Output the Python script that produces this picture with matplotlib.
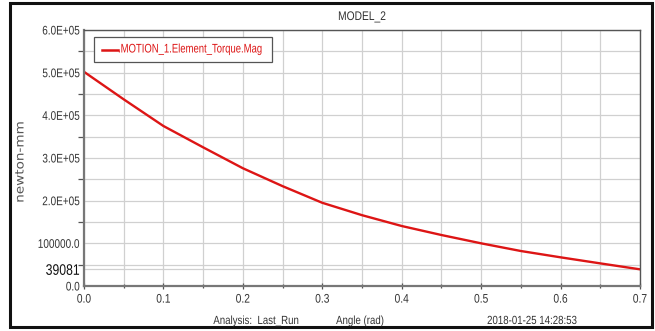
import matplotlib
matplotlib.use("Agg")
import matplotlib.pyplot as plt
from matplotlib.patches import Rectangle
from matplotlib.lines import Line2D
from matplotlib.ticker import MultipleLocator
from matplotlib.patheffects import AbstractPathEffect
from matplotlib.transforms import Affine2D

angle = [0.0, 0.05, 0.1, 0.15, 0.2, 0.25, 0.3, 0.35, 0.4, 0.45, 0.5, 0.55, 0.6, 0.65, 0.7]
torque = [502000, 437500, 375000, 325000, 276000, 234000, 195000, 166000, 140600,
          119500, 100000, 82000, 67200, 53000, 39081]
ytick_vals = [0, 39081, 100000, 200000, 300000, 400000, 500000, 600000]
ytick_labels = ["0.0", "39081", "100000.0", "2.0E+05", "3.0E+05", "4.0E+05", "5.0E+05", "6.0E+05"]
xtick_vals = [0.0, 0.1, 0.2, 0.3, 0.4, 0.5, 0.6, 0.7]
xtick_labels = ["0.0", "0.1", "0.2", "0.3", "0.4", "0.5", "0.6", "0.7"]
series_name = ".MOTION_1.Element_Torque.Mag"


class Squeeze(AbstractPathEffect):
    """Horizontally scale text glyphs (narrow font look)."""
    def __init__(self, sx=0.82, anchor="center"):
        super().__init__()
        self.sx = sx
        self.anchor = anchor

    def draw_path(self, renderer, gc, tpath, affine, rgbFace=None):
        ext = tpath.get_extents()
        if self.anchor == "left":
            c = 0.0
        elif self.anchor == "right":
            c = ext.x1
        else:
            c = ext.x1 / 2.0
        t = Affine2D().translate(-c, 0).scale(self.sx, 1).translate(c, 0) + affine
        renderer.draw_path(gc, tpath, t, rgbFace)


plt.rcParams['font.family'] = ['Liberation Sans', 'DejaVu Sans']
TXT = "#333333"
RED = "#dd1515"

W, H = 655, 331
fig = plt.figure(figsize=(W / 100, H / 100), dpi=100)
ax = fig.add_axes([84 / W, 1 - 286 / H, (640 - 84) / W, (286 - 30) / H])

ax.plot(angle, torque, color=RED, lw=1.7, label=series_name)
ax.set_xlim(0, 0.7)
ax.set_ylim(0, 600000)

ax.set_xticks(xtick_vals)
ax.set_xticklabels(xtick_labels)
ax.set_yticks(ytick_vals)
ax.set_yticklabels(ytick_labels)
ax.xaxis.set_minor_locator(MultipleLocator(0.05))
ax.yaxis.set_minor_locator(MultipleLocator(50000))

for lab in ax.get_yticklabels():
    if lab.get_text() == "39081":
        lab.set_fontsize(11)
        lab.set_color("#111111")
    else:
        lab.set_fontsize(9)
        lab.set_color(TXT)
    lab.set_path_effects([Squeeze(0.8, "right")])
for lab in ax.get_xticklabels():
    lab.set_fontsize(9)
    lab.set_color(TXT)
    lab.set_path_effects([Squeeze(0.82, "center")])

ax.grid(True, which="both", color="#d0d0d0", lw=0.9)
ax.set_axisbelow(True)
ax.tick_params(axis="both", which="both", direction="inout", color="#555555", length=5, width=0.9, pad=3)
ax.tick_params(axis="both", which="minor", length=3)
ax.tick_params(axis="y", which="major", length=0)
ax.tick_params(axis="y", which="minor", direction="out", length=4)
for s in ["left", "bottom"]:
    ax.spines[s].set_color("#777777")
    ax.spines[s].set_linewidth(1.6)
for s in ["top", "right"]:
    ax.spines[s].set_color("#555555")
    ax.spines[s].set_linewidth(1.0)

# legend box (drawn manually so its frame fits the narrow text)
def fx(x):
    return x / W

def fy(y):
    return 1 - y / H

fig.add_artist(Rectangle((fx(94), fy(62)), (272 - 94) / W, (62 - 37) / H, transform=fig.transFigure,
                         facecolor="white", edgecolor="#555555", lw=0.9, zorder=5))
fig.add_artist(Line2D([fx(102), fx(118)], [fy(49.5), fy(49.5)], transform=fig.transFigure,
                      color=RED, lw=1.8, zorder=6))
fig.text(fx(118), fy(49.5), series_name, ha="left", va="center", fontsize=9, color=RED,
         zorder=6, path_effects=[Squeeze(0.76, "left")])

def ftext(x, y, s, **kw):
    return fig.text(fx(x), fy(y), s, ha="center", va="center", color=TXT,
                    path_effects=[Squeeze(0.82, "center")], **kw)

ftext(362, 17, "MODEL_2", fontsize=9)
ftext(256, 321, "Analysis:  Last_Run", fontsize=8.5)
ftext(360, 321, "Angle (rad)", fontsize=8.5)
ftext(532, 321, "2018-01-25 14:28:53", fontsize=8.5)
fig.text(fx(20), fy(162), "newton-mm", ha="center", va="center", rotation=90,
         fontsize=8.5, color="#555555", family="DejaVu Sans",
         path_effects=[Squeeze(1.15, "center")])

fig.add_artist(Rectangle((fx(10), fy(327)), (652 - 10) / W, (327 - 3) / H,
                         transform=fig.transFigure, fill=False, edgecolor="#111111", lw=2.2))

fig.savefig("out.png", dpi=100)
